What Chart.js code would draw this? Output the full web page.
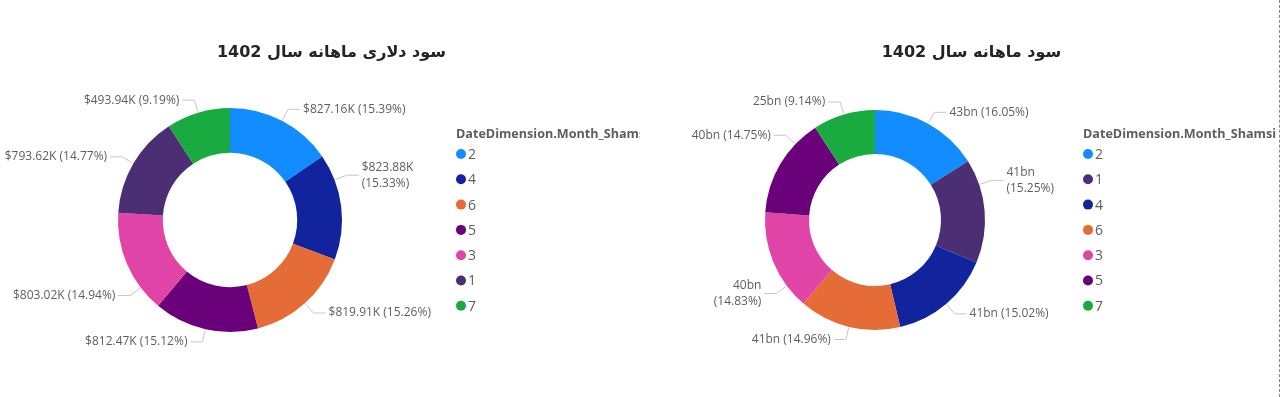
<!DOCTYPE html>
<html>
<head>
<meta charset="utf-8">
<script src="https://cdn.jsdelivr.net/npm/chart.js@4.4.0/dist/chart.umd.min.js"></script>
<style>
  body { margin: 0; background: #fff; }
  #page { position: relative; width: 1281px; height: 397px; overflow: hidden; }
  .panel { position: absolute; top: 0; width: 640px; height: 397px; }
  #edge { position: absolute; left: 1279px; top: 0; height: 397px; border-left: 1px dashed #8a8886; }
</style>
</head>
<body>
<div id="page">
  <div class="panel" style="left:0"><canvas id="dollarChart"></canvas></div>
  <div class="panel" style="left:640px"><canvas id="rialChart"></canvas></div>
  <div id="edge"></div>
</div>
<script>
const legendTitle = "DateDimension.Month_Shamsi";

const dollarTitle = "سود دلاری ماهانه سال 1402";
const dollarMonths = ["2", "4", "6", "5", "3", "1", "7"];
const dollarProfitK = [827.16, 823.88, 819.91, 812.47, 803.02, 793.62, 493.94];

const rialTitle = "سود ماهانه سال 1402";
const rialMonths = ["2", "1", "4", "6", "3", "5", "7"];
const rialProfitBn = [43.46, 41.30, 40.67, 40.51, 40.16, 39.94, 24.75];

const monthColors = {
  "1": "#4B2E74",
  "2": "#118DFF",
  "3": "#E044A7",
  "4": "#12239E",
  "5": "#6B007B",
  "6": "#E66C37",
  "7": "#1AAB40"
};

const labelFont = '12px "Open Sans", sans-serif';
const labelColor = "#605E5C";
const leaderColor = "#C8C6C4";

// title + legend drawn straight on the canvas
const panelDecor = {
  id: "panelDecor",
  afterDraw(chart, args, opts) {
    let ctx = chart.ctx;
    ctx.save();

    // title (rtl)
    ctx.direction = "rtl";
    ctx.font = 'bold 16px "DejaVu Sans", sans-serif';
    ctx.fillStyle = "#252423";
    ctx.textAlign = "center";
    ctx.textBaseline = "middle";
    ctx.fillText(opts.title, opts.titleX, 53);

    // legend
    ctx.direction = "ltr";
    ctx.textAlign = "left";
    ctx.font = 'bold 12.6px "Open Sans", sans-serif';
    ctx.fillStyle = "#605E5C";
    ctx.fillText(legendTitle, opts.legendX, 134);

    let labels = chart.data.labels;
    let colors = chart.data.datasets[0].backgroundColor;
    ctx.font = '14px "Open Sans", sans-serif';
    for (let i = 0; i < labels.length; i++) {
      let y = 154 + i * 25.3;
      ctx.fillStyle = colors[i];
      ctx.beginPath();
      ctx.arc(opts.legendX + 5, y, 5, 0, Math.PI * 2);
      ctx.fill();
      ctx.fillStyle = "#605E5C";
      ctx.fillText(labels[i], opts.legendX + 12, y + 1);
    }
    ctx.restore();
  }
};

// outside data labels with leader lines, Power BI style
const donutLabels = {
  id: "donutLabels",
  afterDatasetsDraw(chart, args, opts) {
    let ctx = chart.ctx;
    let meta = chart.getDatasetMeta(0);
    let data = chart.data.datasets[0].data;
    let total = data.reduce((a, b) => a + b, 0);

    ctx.save();
    ctx.font = labelFont;
    ctx.textBaseline = "middle";
    ctx.lineWidth = 1;

    meta.data.forEach((arc, i) => {
      let p = arc.getProps(["x", "y", "startAngle", "endAngle", "outerRadius"], true);
      let a = (p.startAngle + p.endAngle) / 2 + (opts.shift[i] || 0) * Math.PI / 180;
      let cos = Math.cos(a), sin = Math.sin(a);
      let x0 = p.x + cos * (p.outerRadius + 1), y0 = p.y + sin * (p.outerRadius + 1);
      let x1 = p.x + cos * (p.outerRadius + 13), y1 = p.y + sin * (p.outerRadius + 13);
      let right = cos >= 0;
      let x2 = x1 + (right ? 12 : -12);

      ctx.strokeStyle = leaderColor;
      ctx.beginPath();
      ctx.moveTo(x0, y0);
      ctx.lineTo(x1, y1);
      ctx.lineTo(x2, y1);
      ctx.stroke();

      let value = opts.format(data[i]);
      let pct = "(" + (data[i] / total * 100).toFixed(2) + "%)";
      ctx.fillStyle = labelColor;
      ctx.textAlign = right ? "left" : "right";
      let tx = x2 + (right ? 3 : -3);
      if (opts.wrap.includes(i)) {
        ctx.fillText(value, tx, y1 - 8);
        ctx.fillText(pct, tx, y1 + 8);
      } else {
        ctx.fillText(value + " " + pct, tx, y1);
      }
    });
    ctx.restore();
  }
};

function makeDonut(id, months, values, opts) {
  let ctx = document.getElementById(id).getContext("2d");
  return new Chart(ctx, {
    type: "doughnut",
    data: {
      labels: months,
      datasets: [{
        data: values,
        backgroundColor: months.map(m => monthColors[m]),
        borderWidth: 0
      }]
    },
    options: {
      responsive: true,
      maintainAspectRatio: false,
      animation: false,
      cutout: "60%",
      layout: { padding: opts.padding },
      plugins: {
        legend: { display: false },
        tooltip: { enabled: false },
        panelDecor: { title: opts.title, titleX: 331.5, legendX: opts.legendX },
        donutLabels: { format: opts.format, shift: opts.shift, wrap: opts.wrap }
      }
    },
    plugins: [donutLabels, panelDecor]
  });
}

makeDonut("dollarChart", dollarMonths, dollarProfitK, {
  title: dollarTitle,
  legendX: 456,
  padding: { left: 118, right: 298, top: 108, bottom: 65 },
  format: v => "$" + v.toFixed(2) + "K",
  shift: [0, -14, 0, 0, -14, 0, 0],
  wrap: [1]
});

makeDonut("rialChart", rialMonths, rialProfitBn, {
  title: rialTitle,
  legendX: 443,
  padding: { left: 125, right: 295, top: 110, bottom: 67 },
  format: v => Math.round(v) + "bn",
  shift: [0, -14, 0, 0, -14, 13, 0],
  wrap: [1, 4]
});
</script>
</body>
</html>
